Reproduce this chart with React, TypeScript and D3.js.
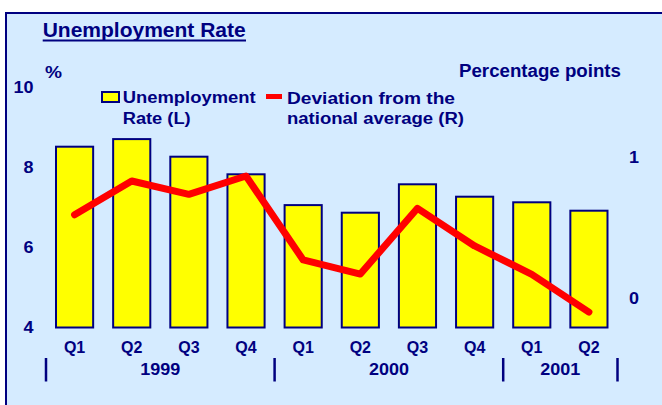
import React from "react";
import * as d3 from "d3";

const quarters = ["Q1", "Q2", "Q3", "Q4", "Q1", "Q2", "Q3", "Q4", "Q1", "Q2"];
const yearLabels = ["1999", "2000", "2001"];
const yearSpans = [4, 4, 2];
const unemployment = [8.52, 8.71, 8.27, 7.83, 7.06, 6.87, 7.58, 7.27, 7.13, 6.92];
const deviation = [0.59, 0.83, 0.735, 0.865, 0.27, 0.17, 0.636, 0.369, 0.168, -0.1];
const leftTicks = [4, 6, 8, 10];
const rightTicks = [0, 1];

const NAVY = "#000080";
const BG = "#D5EBFF";
const FONT = "'Liberation Sans', Arial, Helvetica, sans-serif";

export default function App() {
  const W = 662;
  const H = 405;
  const idx = quarters.map((_, i) => i);
  const x = d3
    .scaleBand<number>()
    .domain(idx)
    .range([46, 617.5])
    .paddingInner(0.35)
    .paddingOuter(0.175);
  const yL = d3.scaleLinear().domain([4, 10]).range([327.5, 87.5]);
  const yR = d3.scaleLinear().domain([0, 1]).range([298, 157]);
  const cx = (i: number) => (x(i) as number) + x.bandwidth() / 2;

  const line = d3
    .line<number>()
    .x((_, i) => cx(i))
    .y((d) => yR(d));

  // year group boundaries
  const bounds: number[] = [0];
  yearSpans.forEach((s) => bounds.push(bounds[bounds.length - 1] + s));
  const step = x.step();
  const x0 = 46;
  const bx = (k: number) => x0 + k * step;

  const txt = {
    fontFamily: FONT,
    fontWeight: 700,
    fill: NAVY,
  } as const;

  return (
    <svg
      width={W}
      height={H}
      style={{ position: "absolute", left: 0, top: 0, background: "#fff" }}
    >
      <rect x={0} y={0} width={W} height={H} fill="#fff" />
      <rect x={6} y={13} width={720} height={440} fill={BG} stroke={NAVY} strokeWidth={2} />

      {/* Title */}
      <text x={42.7} y={37} fontSize={21} {...txt} textLength={203} lengthAdjust="spacingAndGlyphs">
        Unemployment Rate
      </text>
      <line x1={42.7} x2={246} y1={40.5} y2={40.5} stroke={NAVY} strokeWidth={2} />

      {/* axis units */}
      <text x={45} y={78} fontSize={16} {...txt} textLength={17} lengthAdjust="spacingAndGlyphs">
        %
      </text>
      <text x={459} y={77} fontSize={17.5} {...txt} textLength={162} lengthAdjust="spacingAndGlyphs">
        Percentage points
      </text>

      {/* left ticks */}
      {leftTicks.map((t) => (
        <text
          key={"l" + t}
          x={33.5}
          y={yL(t) + 5.8}
          fontSize={16}
          textAnchor="end"
          {...txt}
          textLength={String(t).length * 10}
          lengthAdjust="spacingAndGlyphs"
        >
          {t}
        </text>
      ))}
      {/* right ticks */}
      {rightTicks.map((t) => (
        <text
          key={"r" + t}
          x={629}
          y={yR(t) + 5.8}
          fontSize={16}
          {...txt}
          textLength={10}
          lengthAdjust="spacingAndGlyphs"
        >
          {t}
        </text>
      ))}

      {/* bars */}
      {unemployment.map((v, i) => (
        <rect
          key={"b" + i}
          x={x(i)}
          y={yL(v)}
          width={x.bandwidth()}
          height={yL(4) - yL(v)}
          fill="#FFFF00"
          stroke={NAVY}
          strokeWidth={2}
        />
      ))}

      {/* line */}
      <path
        d={line(deviation) || ""}
        fill="none"
        stroke="#FF0000"
        strokeWidth={7}
        strokeLinecap="round"
        strokeLinejoin="round"
      />

      {/* legend */}
      <rect x={102} y={92} width={17} height={10} fill="#FFFF00" stroke={NAVY} strokeWidth={2} />
      <text x={122.7} y={103} fontSize={16} {...txt} textLength={133} lengthAdjust="spacingAndGlyphs">
        Unemployment
      </text>
      <text x={122.7} y={124} fontSize={16} {...txt} textLength={68} lengthAdjust="spacingAndGlyphs">
        Rate (L)
      </text>
      <rect x={266} y={94} width={16} height={5} fill="#FF0000" />
      <text x={287} y={103.5} fontSize={16} {...txt} textLength={168} lengthAdjust="spacingAndGlyphs">
        Deviation from the
      </text>
      <text x={287} y={124} fontSize={16} {...txt} textLength={177} lengthAdjust="spacingAndGlyphs">
        national average (R)
      </text>

      {/* quarter labels */}
      {quarters.map((q, i) => (
        <text key={"q" + i} x={cx(i)} y={352.5} fontSize={16} textAnchor="middle" {...txt}>
          {q}
        </text>
      ))}

      {/* year separators */}
      {bounds.map((b, k) => (
        <line
          key={"s" + k}
          x1={bx(b)}
          x2={bx(b)}
          y1={358}
          y2={381.5}
          stroke={NAVY}
          strokeWidth={2.5}
        />
      ))}
      {yearLabels.map((yl, k) => (
        <text
          key={"y" + k}
          x={(bx(bounds[k]) + bx(bounds[k + 1])) / 2}
          y={375}
          fontSize={17}
          textAnchor="middle"
          {...txt}
          textLength={40}
          lengthAdjust="spacingAndGlyphs"
        >
          {yl}
        </text>
      ))}
    </svg>
  );
}
